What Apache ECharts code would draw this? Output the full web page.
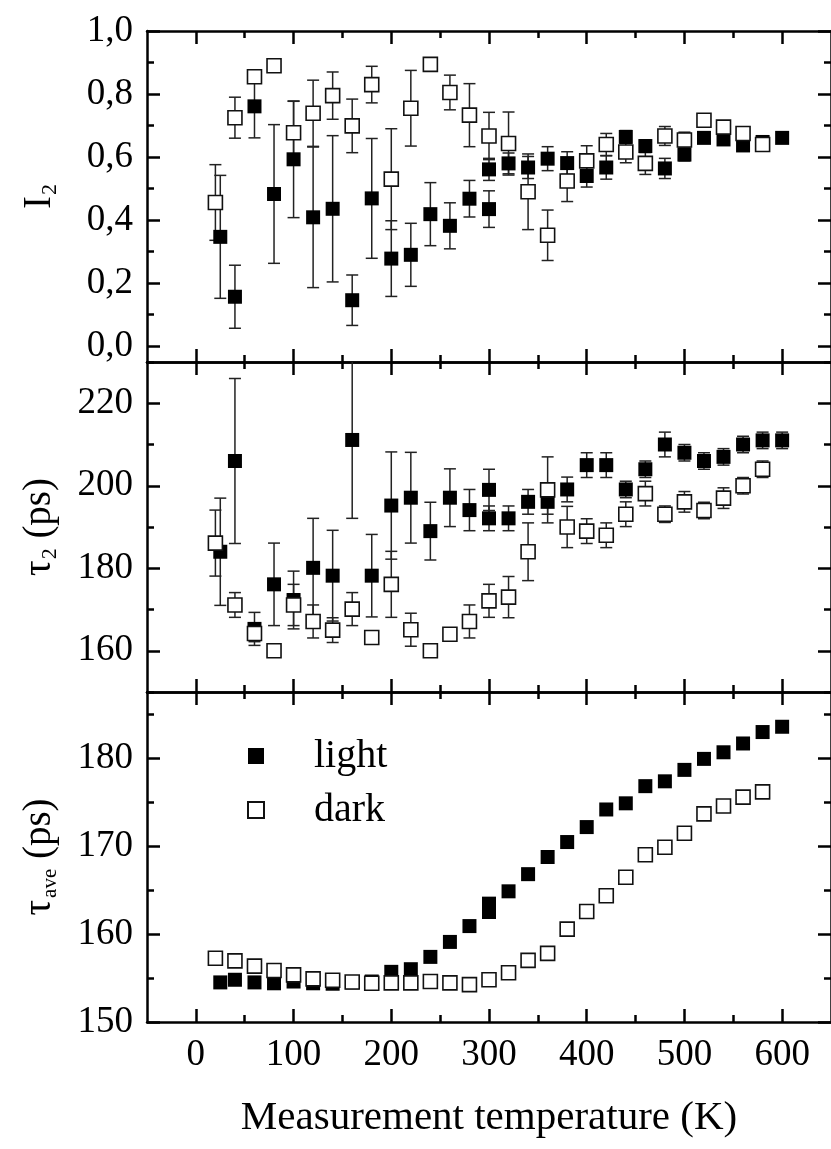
<!DOCTYPE html>
<html>
<head>
<meta charset="utf-8">
<script src="https://cdn.jsdelivr.net/npm/echarts@6/dist/echarts.min.js"></script>
<style>
  html, body { margin: 0; padding: 0; background: #fff; }
  #chart { width: 831px; height: 1149px; }
</style>
</head>
<body>
<div id="chart"></div>
<script>
// temperatures (K)
var lightTemp = [25,40,60,80,100,120,140,160,180,200,220,240,260,280,300,300,320,340,360,380,400,420,440,460,480,500,520,540,560,580,600];
var darkTemp = [20,40,60,80,100,120,140,160,180,200,220,240,260,280,300,320,340,360,380,400,420,440,460,480,500,520,540,560,580];

// I2 panel
var lightI2 = [0.347,0.157,0.761,0.483,0.593,0.409,0.436,0.146,0.469,0.278,0.29,0.419,0.382,0.468,0.561,0.435,0.58,0.567,0.595,0.581,0.54,0.567,0.664,0.635,0.564,0.608,0.661,0.656,0.637,0.648,0.661];
var lightI2Err = [0.195,0.10,0.10,0.22,0.185,0.223,0.232,0.08,0.19,0.12,0.10,0.10,0.073,0.058,0.035,0.058,0.033,0.035,0.038,0.036,0.035,0.037,0.02,0.02,0.032,0.02,0.012,0.012,0.012,0.01,0.01];
var darkI2 = [0.456,0.725,0.855,0.89,0.677,0.739,0.795,0.699,0.83,0.53,0.755,0.894,0.805,0.733,0.667,0.643,0.49,0.352,0.524,0.588,0.64,0.616,0.58,0.667,0.654,0.717,0.695,0.675,0.64];
var darkI2Err = [0.12,0.065,0.02,0.01,0.10,0.105,0.075,0.085,0.058,0.16,0.12,0.008,0.055,0.10,0.075,0.10,0.12,0.08,0.065,0.048,0.035,0.034,0.035,0.03,0.025,0.01,0.01,0.012,0.015];

// tau2 panel (ps)
var lightTau2 = [184,206,165.3,176.1,172.3,180.1,178.2,211.1,178.2,195.2,197.1,189,197.1,194.1,199,192.1,192.1,196.1,196.1,199.1,205,205,199.1,204,210,208,206,207,210,211,211];
var lightTau2Err = [13,20,4,10,7,12,11,19,10,13,11,7,7,5,5,3,3,3,3,3,3,3,2,2,3,2,2,2,2,2,2];
var darkTau2 = [186.1,171.1,164.2,160,171.1,167.1,165,170.1,163.2,176.1,165.1,160,164,167.1,172.1,173,184,199,190,189,188,193.1,198.1,193.1,196.1,194,197,200,204];
var darkTau2Err = [8,3,2,1,5,4,3,4,1.2,8,4,1,1.5,4,4,5,7,8,5,3,3,3,3,2,2.5,2,2.5,2,2];

// tau_ave panel (ps)
var lightTauAve = [154.5,154.8,154.5,154.4,154.6,154.4,154.35,154.5,154.6,155.7,156.0,157.4,159.1,160.9,163.45,162.5,164.85,166.8,168.75,170.45,172.15,174.15,174.85,176.8,177.35,178.65,179.9,180.65,181.65,182.95,183.55];
var darkTauAve = [157.25,156.95,156.35,155.85,155.35,154.9,154.75,154.55,154.4,154.45,154.45,154.6,154.45,154.25,154.8,155.6,157.0,157.8,160.55,162.55,164.35,166.45,169.0,169.85,171.45,173.65,174.55,175.55,176.15];

// ticks
var xMajor = [0,100,200,300,400,500,600];
var xMinor = [50,150,250,350,450,550];
var i2Major = [0,0.2,0.4,0.6,0.8,1.0];
var i2Minor = [0.1,0.3,0.5,0.7,0.9];
var tau2Major = [160,180,200,220];
var tau2Minor = [150,170,190,210,230];
var aveMajor = [150,160,170,180];
var aveMinor = [155,165,175,185];

var FONT = 'Liberation Serif';
var AXIS_W = 2.5;
var LABEL_SIZE = 37;

function pairs(xs, ys) {
    return xs.map(function (x, i) { return [x, ys[i]]; });
}
function errPairs(xs, ys, es) {
    return xs.map(function (x, i) { return [x, ys[i] - es[i], ys[i] + es[i]]; });
}

function tick(len, vals) {
    return { inside: true, length: len, customValues: vals, lineStyle: { width: AXIS_W, color: '#000' } };
}
var shownLine = { show: true, onZero: false, lineStyle: { color: '#000', width: AXIS_W } };
var hiddenLine = { show: false, onZero: false };

function xAxesFor(g, last) {
    var base = { type: 'value', gridIndex: g, min: -50, max: 650, splitLine: { show: false } };
    var major = Object.assign({}, base, {
        position: 'bottom',
        axisLine: shownLine,
        axisTick: tick(13, xMajor),
        axisLabel: { show: last, customValues: xMajor, margin: 15, fontSize: LABEL_SIZE, fontFamily: FONT, color: '#000' }
    });
    if (last) {
        major.name = 'Measurement temperature (K)';
        major.nameLocation = 'middle';
        major.nameGap = 76;
        major.nameTextStyle = { fontSize: 41, fontFamily: FONT, color: '#000' };
    }
    var minor = Object.assign({}, base, { position: 'bottom', axisLine: hiddenLine, axisTick: tick(7, xMinor), axisLabel: { show: false } });
    var topMajor = Object.assign({}, base, { position: 'top', axisLine: shownLine, axisTick: tick(13, xMajor), axisLabel: { show: false } });
    var topMinor = Object.assign({}, base, { position: 'top', axisLine: hiddenLine, axisTick: tick(7, xMinor), axisLabel: { show: false } });
    return [major, minor, topMajor, topMinor];
}

function yAxesFor(g, min, max, major, minor, fmt, name, rich) {
    var base = { type: 'value', gridIndex: g, min: min, max: max, splitLine: { show: false } };
    var left = Object.assign({}, base, {
        position: 'left',
        name: name,
        nameLocation: 'middle',
        nameGap: 86,
        nameRotate: 90,
        nameTextStyle: { fontFamily: FONT, color: '#000', rich: rich },
        axisLine: shownLine,
        axisTick: tick(13, major),
        axisLabel: { customValues: major, formatter: fmt, margin: 14, fontSize: LABEL_SIZE, fontFamily: FONT, color: '#000' }
    });
    var leftMinor = Object.assign({}, base, { position: 'left', axisLine: hiddenLine, axisTick: tick(7, minor), axisLabel: { show: false } });
    var right = Object.assign({}, base, { position: 'right', axisLine: shownLine, axisTick: tick(13, major), axisLabel: { show: false } });
    var rightMinor = Object.assign({}, base, { position: 'right', axisLine: hiddenLine, axisTick: tick(7, minor), axisLabel: { show: false } });
    return [left, leftMinor, right, rightMinor];
}

function errorBars(g, data) {
    return {
        type: 'custom',
        xAxisIndex: g * 4,
        yAxisIndex: g * 4,
        z: 1,
        silent: true,
        data: data,
        encode: { x: 0, y: [1, 2] },
        renderItem: function (params, api) {
            var x = api.value(0);
            var top = api.coord([x, api.value(2)]);
            var bot = api.coord([x, api.value(1)]);
            var cs = params.coordSys;
            var yMin = cs.y, yMax = cs.y + cs.height;
            var half = 6;
            var style = { stroke: '#222', lineWidth: 1.5 };
            var y1 = Math.max(top[1], yMin), y2 = Math.min(bot[1], yMax);
            var kids = [{ type: 'line', shape: { x1: top[0], y1: y1, x2: top[0], y2: y2 }, style: style }];
            if (top[1] >= yMin) kids.push({ type: 'line', shape: { x1: top[0] - half, y1: top[1], x2: top[0] + half, y2: top[1] }, style: style });
            if (bot[1] <= yMax) kids.push({ type: 'line', shape: { x1: bot[0] - half, y1: bot[1], x2: bot[0] + half, y2: bot[1] }, style: style });
            return { type: 'group', children: kids };
        }
    };
}

function points(g, name, data, open) {
    return {
        type: 'scatter',
        name: name,
        xAxisIndex: g * 4,
        yAxisIndex: g * 4,
        z: open ? 3 : 2,
        symbol: 'rect',
        symbolSize: 14,
        data: data,
        itemStyle: open
            ? { color: '#fff', borderColor: '#111', borderWidth: 1.6, opacity: 1 }
            : { color: '#000', opacity: 1 },
        emphasis: { disabled: true }
    };
}

var chart = echarts.init(document.getElementById('chart'));

var grids = [
    { left: 147, right: -2, top: 31, height: 331 },
    { left: 147, right: -2, top: 362, height: 330 },
    { left: 147, right: -2, top: 692, height: 330 }
];

var big = { fontSize: 39, fontFamily: FONT, color: '#000' };
var xAxis = [].concat(xAxesFor(0, false), xAxesFor(1, false), xAxesFor(2, true));
var yAxis = [].concat(
    yAxesFor(0, -0.05, 1.0, i2Major, i2Minor,
        function (v) { return v.toFixed(1).replace('.', ','); },
        '{a|I}{s|2}', { a: big, s: { fontSize: 22, fontFamily: FONT, color: '#000', padding: [20, 0, 0, 1] } }),
    yAxesFor(1, 150, 230, tau2Major, tau2Minor,
        function (v) { return String(v); },
        '{a|τ}{s|2}{a| (ps)}', { a: big, s: { fontSize: 22, fontFamily: FONT, color: '#000', padding: [20, 0, 0, 1] } }),
    yAxesFor(2, 150, 187.5, aveMajor, aveMinor,
        function (v) { return String(v); },
        '{a|τ}{s|ave}{a| (ps)}', { a: big, s: { fontSize: 21, fontFamily: FONT, color: '#000', padding: [22, 0, 0, 2] } })
);

var option = {
    backgroundColor: '#fff',
    animation: false,
    textStyle: { fontFamily: FONT },
    grid: grids,
    xAxis: xAxis,
    yAxis: yAxis,
    legend: {
        data: ['light', 'dark'],
        orient: 'vertical',
        left: 242,
        top: 731,
        itemWidth: 16,
        itemHeight: 16,
        itemGap: 14,
        icon: 'rect',
        textStyle: { fontSize: 40, fontFamily: FONT, color: '#000', padding: [0, 0, 0, 45] }
    },
    series: [
        errorBars(0, errPairs(lightTemp, lightI2, lightI2Err)),
        errorBars(0, errPairs(darkTemp, darkI2, darkI2Err)),
        points(0, 'light I2', pairs(lightTemp, lightI2), false),
        points(0, 'dark I2', pairs(darkTemp, darkI2), true),
        errorBars(1, errPairs(lightTemp, lightTau2, lightTau2Err)),
        errorBars(1, errPairs(darkTemp, darkTau2, darkTau2Err)),
        points(1, 'light tau2', pairs(lightTemp, lightTau2), false),
        points(1, 'dark tau2', pairs(darkTemp, darkTau2), true),
        points(2, 'light', pairs(lightTemp, lightTauAve), false),
        points(2, 'dark', pairs(darkTemp, darkTauAve), true)
    ]
};

chart.setOption(option);
</script>
</body>
</html>
